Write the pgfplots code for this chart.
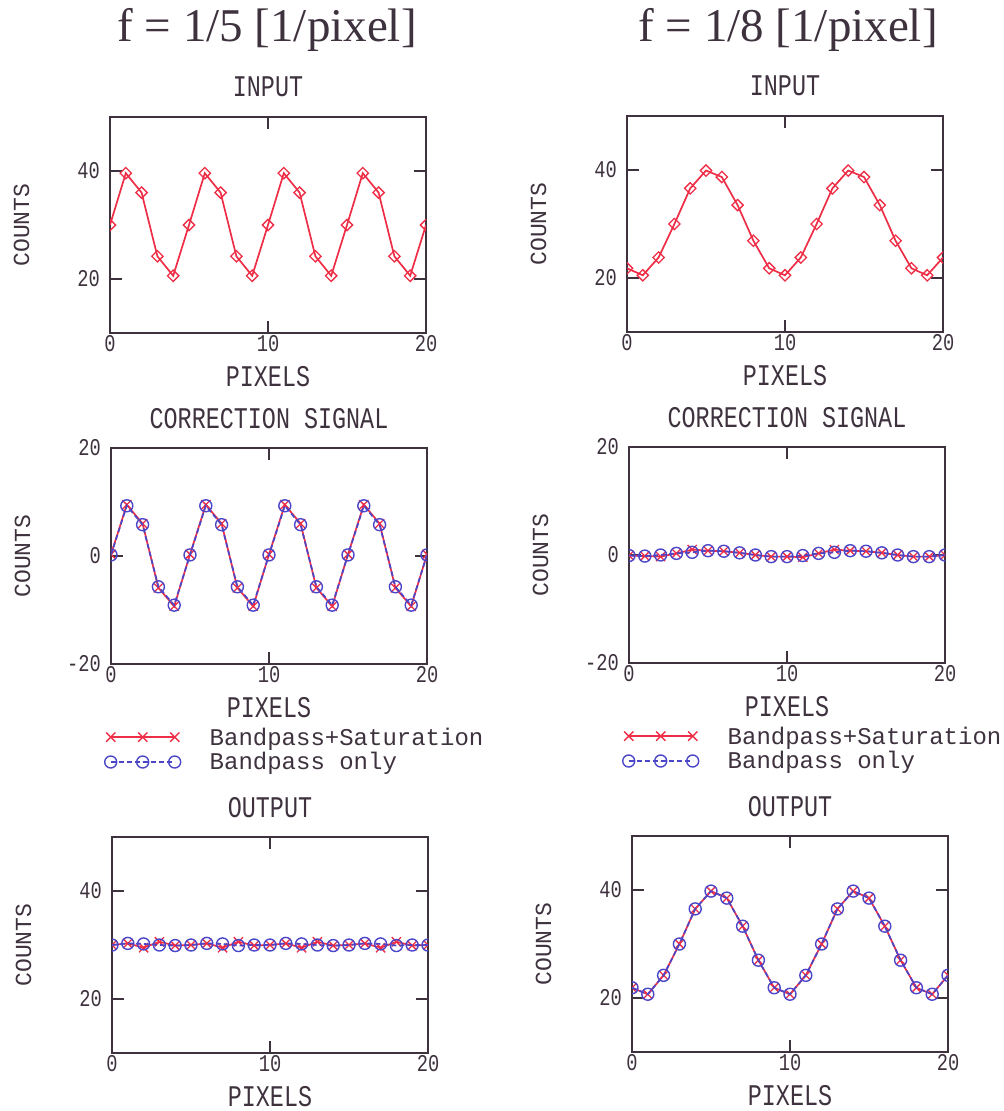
\documentclass[border=0pt]{standalone}
\usepackage{fontspec}
\usepackage{pgfplots}
\pgfplotsset{compat=1.18}
\newfontfamily\titlefont{Liberation Serif}
\newfontfamily\monoC[FakeStretch=0.78]{Liberation Mono}
\newfontfamily\monoN{Liberation Mono}

\definecolor{ink}{RGB}{62,50,62}
\definecolor{sred}{RGB}{238,45,70}
\definecolor{sblue}{RGB}{75,70,200}

\pgfplotstableread{
x in5 in8
0 30.0 21.8
1 39.6 20.5
2 36.0 23.8
3 24.2 30.0
4 20.6 36.6
5 30.0 39.9
6 39.6 38.7
7 36.0 33.5
8 24.2 26.9
9 20.6 21.8
10 30.0 20.5
11 39.6 23.8
12 36.0 30.0
13 24.2 36.6
14 20.6 39.9
15 30.0 38.7
16 39.6 33.5
17 36.0 26.9
18 24.2 21.8
19 20.6 20.5
20 30.0 23.8
}\inputdata

\pgfplotstableread{
x sat5 bp5 sat8 bp8
0 0.3 0.2 -0.1 -0.1
1 9.5 9.3 -0.2 -0.2
2 6.0 5.8 -0.3 0.0
3 -5.9 -5.7 0.3 0.3
4 -9.3 -9.1 1.0 0.5
5 0.3 0.2 0.8 0.8
6 9.5 9.3 0.7 0.7
7 6.0 5.8 0.4 0.4
8 -5.9 -5.7 0.0 0.0
9 -9.3 -9.1 -0.3 -0.3
10 0.3 0.2 -0.3 -0.3
11 9.5 9.3 -0.4 -0.1
12 6.0 5.8 0.3 0.3
13 -5.9 -5.7 1.0 0.5
14 -9.3 -9.1 0.8 0.8
15 0.3 0.2 0.7 0.7
16 9.5 9.3 0.4 0.4
17 6.0 5.8 0.0 0.0
18 -5.9 -5.7 -0.3 -0.3
19 -9.3 -9.1 -0.3 -0.3
20 0.3 0.2 0.0 0.0
}\corrdata

\pgfplotstableread{
x sat5 bp5 sat8 bp8
0 30.0 30.0 21.9 21.9
1 30.3 30.3 20.7 20.7
2 29.5 30.2 24.2 24.2
3 30.6 30.0 30.0 30.0
4 29.9 29.9 36.5 36.5
5 30.0 30.0 39.8 39.8
6 30.3 30.3 38.5 38.5
7 29.5 30.2 33.3 33.3
8 30.6 29.9 27.0 27.0
9 29.9 30.0 21.9 21.9
10 30.0 30.0 20.7 20.7
11 30.3 30.3 24.2 24.2
12 29.5 30.2 30.0 30.0
13 30.6 30.0 36.5 36.5
14 29.9 29.9 39.8 39.8
15 30.0 30.0 38.5 38.5
16 30.3 30.3 33.3 33.3
17 29.5 30.2 27.0 27.0
18 30.6 29.9 21.9 21.9
19 29.9 30.0 20.7 20.7
20 30.0 30.0 24.2 24.2
}\outdata

\pgfplotsset{
  panel/.style={
    scale only axis, width=316bp, height=216bp,
    xmin=0, xmax=20, xtick={0,10,20},
    axis line style={ink, line width=1.8bp},
    tick style={ink, line width=1.6bp},
    tick align=inside, major tick length=12bp,
    /pgf/number format/assume math mode=true,
    ticklabel style={font=\monoC\fontsize{24bp}{24bp}\selectfont, text=ink},
    xticklabel style={inner sep=1bp, yshift=-1bp},
    yticklabel style={inner sep=1bp, xshift=-9bp},
    xlabel={PIXELS}, ylabel={COUNTS},
    xlabel style={at={(axis description cs:0.5,-0.2)}, anchor=center,
      font=\monoC\fontsize{30bp}{30bp}\selectfont, text=ink},
    ylabel style={at={(axis description cs:-0.28,0.5)}, anchor=center,
      font=\monoN\fontsize{23bp}{23bp}\selectfont, text=ink},
    title style={at={(axis description cs:0.5,1.11)}, anchor=center,
      font=\monoC\fontsize{30bp}{30bp}\selectfont, text=ink},
    clip marker paths=true,
  },
  counts/.style={ymin=10, ymax=50, ytick={20,40}},
  corr/.style={ymin=-20, ymax=20, ytick={-20,0,20},
    legend style={anchor=north west, draw=none, fill=none,
      font=\monoN\fontsize{24bp}{24bp}\selectfont, text=ink,
      nodes={inner sep=1bp}, row sep=4bp, column sep=28bp},
    legend cell align=left,
    legend image code/.code={\draw[##1] plot coordinates {(0bp,0bp) (32bp,0bp) (64bp,0bp)};},
  },
  inp/.style={sred, line width=1.7bp, mark=square, mark size=4bp,
    mark options={rotate=45, solid, line width=1.3bp, fill=none}},
  sat/.style={sred, line width=1.7bp, mark=x, mark size=6.5bp,
    mark options={solid, line width=1.3bp}},
  bpo/.style={sblue, line width=1.7bp, dash pattern=on 5bp off 3bp, mark=o, mark size=6bp,
    mark options={solid, line width=1.4bp, fill=none}},
}

\begin{document}
\begin{tikzpicture}
\useasboundingbox (0bp,0bp) rectangle (1004bp,-1111bp);
\node[font=\titlefont\fontsize{47bp}{47bp}\selectfont, text=ink] at (267bp,-30bp) {f = 1/5 [1/pixel]};
\node[font=\titlefont\fontsize{47bp}{47bp}\selectfont, text=ink] at (788bp,-30bp) {f = 1/8 [1/pixel]};

% row 1: input
\begin{axis}[panel, counts, title={INPUT}, at={(110bp,-333bp)}, anchor=south west]
  \addplot[inp] table[x=x, y=in5] {\inputdata};
\end{axis}
\begin{axis}[panel, counts, title={INPUT}, at={(627bp,-332bp)}, anchor=south west]
  \addplot[inp] table[x=x, y=in8] {\inputdata};
\end{axis}

% row 2: correction signal
\begin{axis}[panel, corr, title={CORRECTION SIGNAL}, at={(111bp,-664bp)}, anchor=south west,
    legend style={at={(axis description cs:-0.03,-0.28)}}]
  \addplot[sat] table[x=x, y=sat5] {\corrdata};
  \addlegendentry{Bandpass+Saturation}
  \addplot[bpo] table[x=x, y=bp5] {\corrdata};
  \addlegendentry{Bandpass only}
\end{axis}
\begin{axis}[panel, corr, title={CORRECTION SIGNAL}, at={(629bp,-663bp)}, anchor=south west,
    legend style={at={(axis description cs:-0.03,-0.28)}}]
  \addplot[sat] table[x=x, y=sat8] {\corrdata};
  \addlegendentry{Bandpass+Saturation}
  \addplot[bpo] table[x=x, y=bp8] {\corrdata};
  \addlegendentry{Bandpass only}
\end{axis}

% row 3: output
\begin{axis}[panel, counts, title={OUTPUT}, at={(112bp,-1053bp)}, anchor=south west]
  \addplot[sat] table[x=x, y=sat5] {\outdata};
  \addplot[bpo] table[x=x, y=bp5] {\outdata};
\end{axis}
\begin{axis}[panel, counts, title={OUTPUT}, at={(632bp,-1052bp)}, anchor=south west]
  \addplot[sat] table[x=x, y=sat8] {\outdata};
  \addplot[bpo] table[x=x, y=bp8] {\outdata};
\end{axis}
\end{tikzpicture}
\end{document}
